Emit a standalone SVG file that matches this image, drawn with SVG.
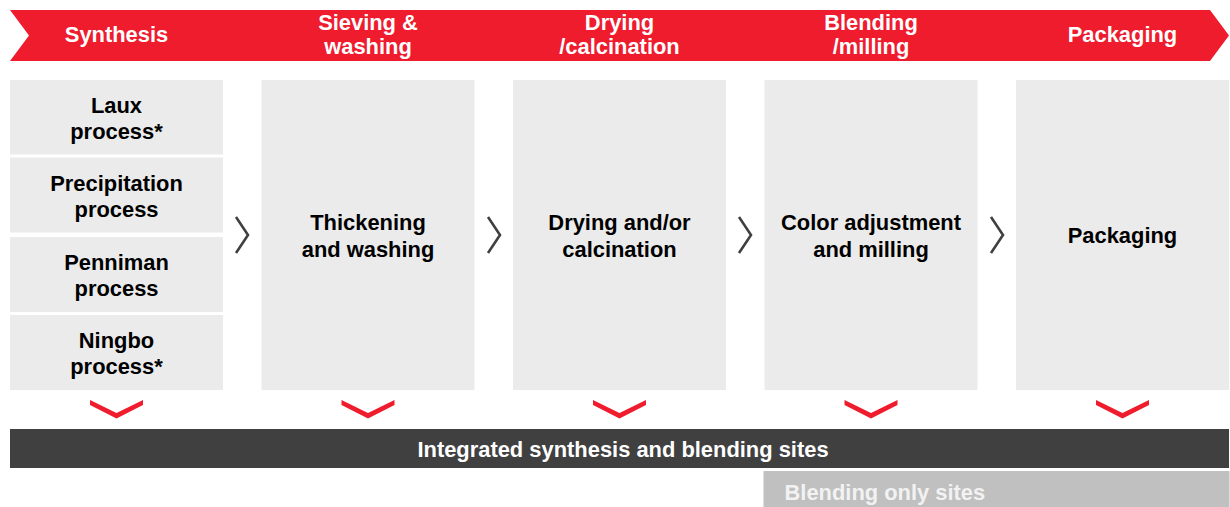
<svg xmlns="http://www.w3.org/2000/svg" width="1230" height="507" viewBox="0 0 1230 507">
<style>
text{font-family:"Liberation Sans",Arial,sans-serif;font-weight:bold;font-size:21.9px;text-anchor:middle}
.hd{fill:#ffffff}
.bx{fill:#ebebeb}
.tx{fill:#000000}
.arr{fill:none;stroke:#404040;stroke-width:2.6}
.chev{fill:#ee1c2d}
</style>
<defs>
<polygon id="v" class="chev" points="-26.5,0 0,13 26.5,0 26.5,5 0,18.5 -26.5,5"/>
</defs>
<g id="banner">
<polygon points="10,10 1210,10 1229,35.5 1210,61 10,61 29,35.5" fill="#ee1c2d"/>
<text class="hd" x="116.5" y="42">Synthesis</text>
<text class="hd" x="368" y="30">Sieving &amp;</text>
<text class="hd" x="368" y="54">washing</text>
<text class="hd" x="619.5" y="30">Drying</text>
<text class="hd" x="619.5" y="54">/calcination</text>
<text class="hd" x="871" y="30">Blending</text>
<text class="hd" x="871" y="54">/milling</text>
<text class="hd" x="1122.5" y="42">Packaging</text>
</g>
<g id="synthesis">
<rect class="bx" x="10" y="80" width="213" height="74.5"/>
<rect class="bx" x="10" y="157.5" width="213" height="75"/>
<rect class="bx" x="10" y="237" width="213" height="75"/>
<rect class="bx" x="10" y="315" width="213" height="75"/>
<text class="tx" x="116.5" y="112.5">Laux</text>
<text class="tx" x="116.5" y="138.5">process*</text>
<text class="tx" x="116.5" y="190.5">Precipitation</text>
<text class="tx" x="116.5" y="216.5">process</text>
<text class="tx" x="116.5" y="269.5">Penniman</text>
<text class="tx" x="116.5" y="295.5">process</text>
<text class="tx" x="116.5" y="347.5">Ningbo</text>
<text class="tx" x="116.5" y="374">process*</text>
</g>
<g id="sieving">
<rect class="bx" x="261.5" y="80" width="213" height="310"/>
<text class="tx" x="368" y="230">Thickening</text>
<text class="tx" x="368" y="256.5">and washing</text>
</g>
<g id="drying">
<rect class="bx" x="513" y="80" width="213" height="310"/>
<text class="tx" x="619.5" y="230">Drying and/or</text>
<text class="tx" x="619.5" y="256.5">calcination</text>
</g>
<g id="blending">
<rect class="bx" x="764.5" y="80" width="213" height="310"/>
<text class="tx" x="871" y="230">Color adjustment</text>
<text class="tx" x="871" y="256.5">and milling</text>
</g>
<g id="packaging">
<rect class="bx" x="1016" y="80" width="213" height="310"/>
<text class="tx" x="1122.5" y="243">Packaging</text>
</g>
<g id="connectors">
<polyline class="arr" points="236,217 248,235 236,253"/>
<polyline class="arr" points="488,217 500,235 488,253"/>
<polyline class="arr" points="739,217 751,235 739,253"/>
<polyline class="arr" points="991,217 1003,235 991,253"/>
<use href="#v" x="116.5" y="400"/>
<use href="#v" x="368" y="400"/>
<use href="#v" x="619.5" y="400"/>
<use href="#v" x="871" y="400"/>
<use href="#v" x="1122.5" y="400"/>
</g>
<g id="integrated">
<rect x="10" y="429" width="1219" height="39" fill="#404040"/>
<text x="623" y="456.5" fill="#ffffff">Integrated synthesis and blending sites</text>
</g>
<g id="blendonly">
<rect x="763.5" y="471" width="466" height="36" fill="#c0c0c0"/>
<text x="784.5" y="499.5" fill="#f2f2f2" style="text-anchor:start">Blending only sites</text>
</g>
</svg>
